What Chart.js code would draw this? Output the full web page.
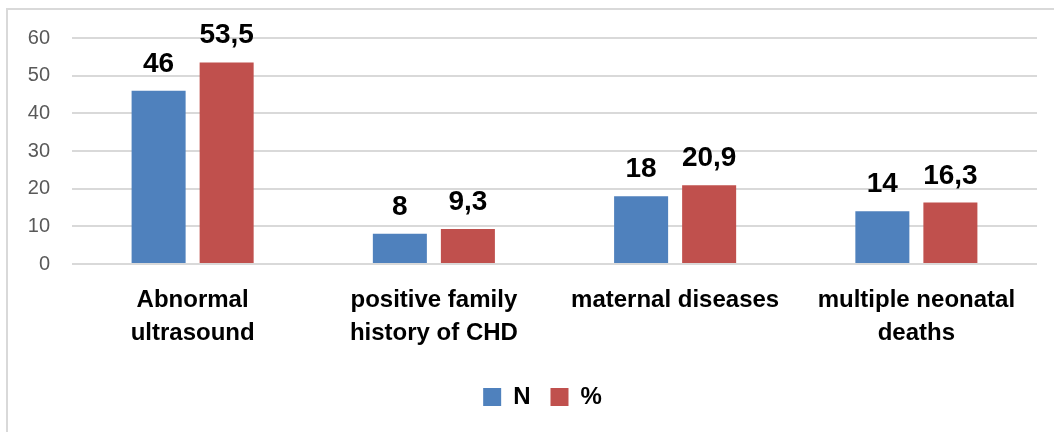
<!DOCTYPE html>
<html>
<head>
<meta charset="utf-8">
<script src="https://cdn.jsdelivr.net/npm/chart.js@4/dist/chart.umd.min.js"></script>
<style>
  html, body { margin: 0; padding: 0; background: #fff; overflow: hidden; }
  #wrap { position: relative; width: 1054px; height: 432px; }
  #frame { position: absolute; left: 6px; top: 8px; right: -10px; bottom: -10px; border: 2px solid #d9d9d9; }
  canvas { position: absolute; left: 0; top: 0; }
</style>
</head>
<body>
<div id="wrap">
  <div id="frame"></div>
  <canvas id="chart" width="1054" height="432"></canvas>
</div>
<script>
// datos del gráfico
const categorias = [
  ['Abnormal', 'ultrasound'],
  ['positive family', 'history of CHD'],
  'maternal diseases',
  ['multiple neonatal', 'deaths']
];
const valoresN = [46, 8, 18, 14];
const valoresPct = [53.5, 9.3, 20.9, 16.3];
const ticksY = [0, 10, 20, 30, 40, 50, 60];

const fuente = "'Liberation Sans', Arial, sans-serif";

// etiquetas encima de cada barra
const etiquetasBarras = {
  id: 'etiquetasBarras',
  afterDatasetsDraw(chart) {
    const ctx = chart.ctx;
    ctx.save();
    ctx.font = 'bold 28px ' + fuente;
    ctx.fillStyle = '#000';
    ctx.textAlign = 'center';
    ctx.textBaseline = 'alphabetic';
    chart.data.datasets.forEach((ds, i) => {
      chart.getDatasetMeta(i).data.forEach((bar, j) => {
        const txt = String(ds.data[j]).replace('.', ',');
        ctx.fillText(txt, bar.x, bar.y - 19);
      });
    });
    ctx.restore();
  }
};

// mover la leyenda un poco a la derecha, como en el original
const moverLeyenda = {
  id: 'moverLeyenda',
  afterLayout(chart) {
    if (chart.legend) {
      chart.legend.left += 24;
      chart.legend.right += 24;
    }
  }
};

new Chart(document.getElementById('chart').getContext('2d'), {
  type: 'bar',
  data: {
    labels: categorias,
    datasets: [
      { label: 'N', data: valoresN, backgroundColor: '#4f81bd', categoryPercentage: 0.564, barPercentage: 0.794 },
      { label: '%', data: valoresPct, backgroundColor: '#c0504d', categoryPercentage: 0.564, barPercentage: 0.794 }
    ]
  },
  options: {
    responsive: false,
    animation: false,
    layout: { padding: { left: 0, right: 17, top: 38, bottom: 13 } },
    plugins: {
      tooltip: { enabled: false },
      legend: {
        position: 'bottom',
        labels: {
          boxWidth: 18,
          boxHeight: 18,
          padding: 20,
          color: '#000',
          font: { family: fuente, size: 24, weight: 'bold' }
        }
      }
    },
    scales: {
      y: {
        min: 0,
        max: 60,
        afterBuildTicks(scale) { scale.ticks = ticksY.map(v => ({ value: v })); },
        afterFit(scale) { scale.width = 72; },
        border: { display: false },
        grid: { color: '#d9d9d9', lineWidth: 2, drawTicks: false },
        ticks: {
          padding: 22,
          color: '#595959',
          font: { family: fuente, size: 20 }
        }
      },
      x: {
        afterFit(scale) { scale.height = 101; },
        border: { display: false },
        grid: { display: false },
        ticks: {
          padding: 12,
          color: '#000',
          maxRotation: 0,
          autoSkip: false,
          font: { family: fuente, size: 24, weight: 'bold', lineHeight: 1.38 }
        }
      }
    }
  },
  plugins: [etiquetasBarras, moverLeyenda]
});
</script>
</body>
</html>
